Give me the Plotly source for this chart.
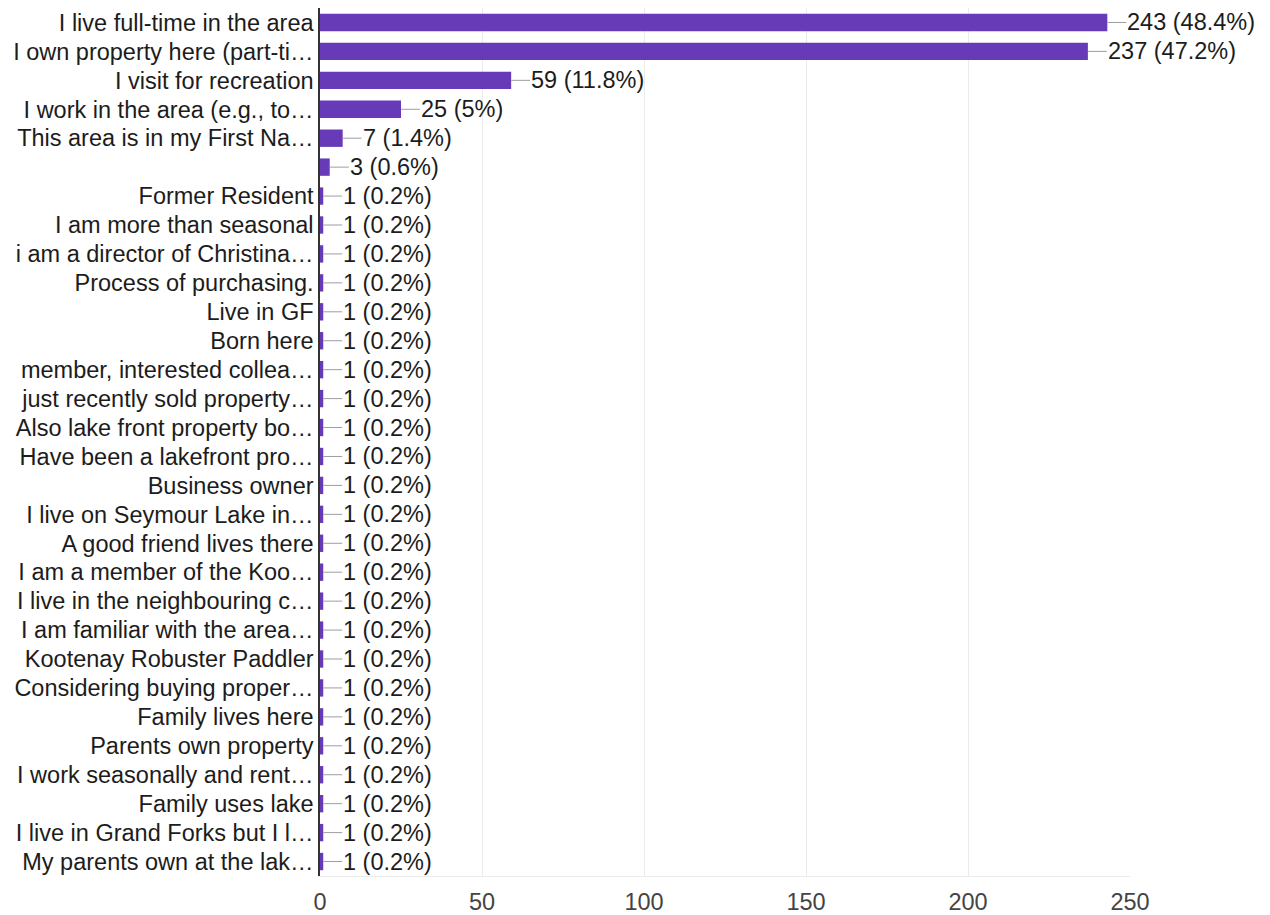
import plotly.graph_objects as go

labels = [
    "I live full-time in the area",
    "I own property here (part-ti…",
    "I visit for recreation",
    "I work in the area (e.g., to…",
    "This area is in my First Na…",
    "",
    "Former Resident",
    "I am more than seasonal",
    "i am a director of Christina…",
    "Process of purchasing.",
    "Live in GF",
    "Born here",
    "member, interested collea…",
    "just recently sold property…",
    "Also lake front property bo…",
    "Have been a lakefront pro…",
    "Business owner",
    "I live on Seymour Lake in…",
    "A good friend lives there",
    "I am a member of the Koo…",
    "I live in the neighbouring c…",
    "I am familiar with the area…",
    "Kootenay Robuster Paddler",
    "Considering buying proper…",
    "Family lives here",
    "Parents own property",
    "I work seasonally and rent…",
    "Family uses lake",
    "I live in Grand Forks but I l…",
    "My parents own at the lak…",
]
counts = [243, 237, 59, 25, 7, 3] + [1] * 24
percents = ["48.4%", "47.2%", "11.8%", "5%", "1.4%", "0.6%"] + ["0.2%"] * 24
x_ticks = [0, 50, 100, 150, 200, 250]

positions = list(range(len(labels)))

FONT = "Liberation Sans, Arial, Helvetica, sans-serif"
TEXT = "#1c1c1c"
FS = 23.5

fig = go.Figure()
fig.add_trace(go.Bar(
    x=counts,
    y=positions,
    orientation="h",
    marker=dict(color="#673ab7", line=dict(width=0)),
    width=0.6,
    hoverinfo="skip",
))

for p, c, pc in zip(positions, counts, percents):
    fig.add_annotation(
        x=c, y=p, xref="x", yref="y",
        text=f"{c} ({pc})",
        showarrow=True, arrowhead=0, arrowwidth=1, arrowcolor="#9e9e9e",
        ax=19, ay=0, standoff=0, xanchor="left",
        borderpad=0,
        font=dict(family=FONT, size=FS, color=TEXT),
    )

# The page body adds an 8px offset; size the figure so the plot area lands
# at x 320..1130, y 8..876 in the window.
fig.update_layout(
    width=1254, height=907,
    margin=dict(l=312, r=132, t=0, b=39, autoexpand=False),
    plot_bgcolor="white", paper_bgcolor="white",
    showlegend=False,
    font=dict(family=FONT, size=FS, color=TEXT),
)
fig.update_xaxes(
    range=[0, 250], tickvals=x_ticks,
    showgrid=True, gridcolor="#ebebeb", gridwidth=1,
    zeroline=False, automargin=False,
    showline=True, linecolor="#ebebeb", linewidth=1, mirror=True,
    ticks="", ticklabelstandoff=5,
    tickfont=dict(family=FONT, size=FS, color="#444"),
)
fig.update_yaxes(
    range=[len(labels) - 0.5, -0.5],
    tickvals=positions, ticktext=labels,
    showgrid=False, zeroline=False, automargin=False,
    showline=True, linecolor="#333333", linewidth=1.5,
    ticks="", ticklabelstandoff=0,
    tickfont=dict(family=FONT, size=FS, color=TEXT),
)

fig.write_html("out.html")
